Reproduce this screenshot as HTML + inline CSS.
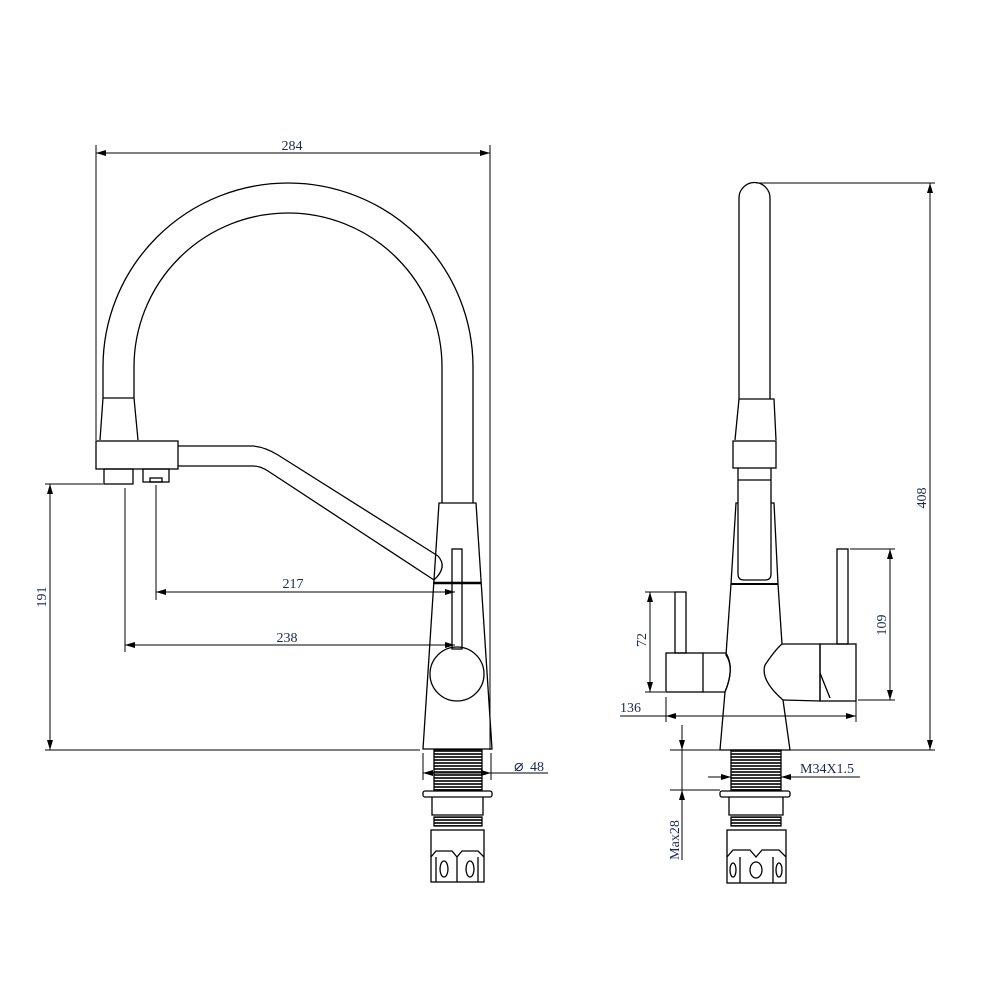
<!DOCTYPE html>
<html><head><meta charset="utf-8"><style>
html,body{margin:0;padding:0;background:#fff}
svg{display:block}
text{font-family:"Liberation Serif",serif;font-size:14px;fill:#1a2a50}
</style></head><body>
<svg width="1000" height="1000" viewBox="0 0 1000 1000" xmlns="http://www.w3.org/2000/svg">
<defs>
<marker id="a" viewBox="0 0 10 6" refX="10" refY="3" markerWidth="10" markerHeight="6" orient="auto-start-reverse" markerUnits="userSpaceOnUse"><path d="M0,0 L10,3 L0,6 z" fill="#000"/></marker>
<pattern id="th" width="4" height="3" patternUnits="userSpaceOnUse"><rect width="4" height="3" fill="#fff"/><rect width="4" height="2" fill="#333"/></pattern>
</defs>
<g fill="none" stroke="#000" stroke-width="1.3">
<!-- LEFT VIEW -->
<path d="M103,398 L103,367 A185,184 0 0 1 473,367 L473,503"/>
<path d="M134,398 L134,367 A154,154 0 0 1 442,367 L442,503"/>
<path d="M103,398 L134,398 L138,440 M103,398 L100,440"/>
<rect x="96" y="441" width="82" height="28"/>
<rect x="104" y="469" width="29" height="15"/>
<rect x="143" y="469" width="26" height="13"/>
<rect x="150" y="478" width="12" height="4"/>
<path d="M178,446 L253,446 Q265,447 278,455 L438,556"/>
<path d="M178,466 L253,466 Q260,466 268,471 L434,580"/>
<path d="M438,556 Q448,567 434,580"/>
<path d="M439,503 L476,503 L492,749 L423,749 Z"/>
<circle cx="457" cy="674" r="27"/>
<rect x="452" y="549" width="10" height="100"/>
<path d="M433,583 L481,583" stroke-width="2.5"/>
<rect x="434" y="750" width="48" height="40" fill="url(#th)"/>
<rect x="423" y="791" width="69" height="6" rx="2"/>
<path d="M432,797 L432,815 L483,815 L483,797"/>
<rect x="434" y="817" width="48" height="9" fill="url(#th)"/>
<rect x="431" y="830" width="53" height="52"/>
<path d="M431,857 L436,851 L452,851 L457,857 L462,851 L478,851 L484,857 M457,857 L457,882 M436,857 L436,882 M478,857 L478,882"/>
<ellipse cx="444" cy="869" rx="4" ry="8"/><ellipse cx="470" cy="869" rx="4" ry="8"/>
<!-- RIGHT VIEW -->
<path d="M739,399 L739,198 A15.5,15.5 0 0 1 770,198 L770,399"/>
<path d="M739,399 L774,399 L776,440 M739,399 L735,440"/>
<rect x="733" y="441" width="43" height="27"/>
<path d="M738,468 L738,480 L771,480 L771,468 M738,480 L738,503 M771,480 L771,503"/>
<path d="M738,503 L736,503 L731,584 M771,503 L774,503 L778,584"/>
<path d="M738,503 L738,574 Q738,580 744,580 L765,580 Q771,580 771,574 L771,503"/>
<path d="M731,584 L778,584" stroke-width="2"/>
<path d="M731,584 L726,655 Q735,668 725,692 L720,750 L790,750 L783,700 Q760,680 765,665 Q775,650 782,644 L778,584"/>
<rect x="666" y="653" width="37" height="39"/>
<path d="M703,653 L726,653 Q735,668 725,692 L703,692" />
<rect x="675" y="592" width="11" height="61"/>
<rect x="820" y="644" width="36" height="57"/>
<path d="M782,644 L820,644 L820,701 L783,700"/>
<path d="M820,673 L830,698"/>
<rect x="837" y="549" width="11" height="95"/>
<rect x="731" y="750" width="50" height="40" fill="url(#th)"/>
<rect x="720" y="791" width="70" height="6" rx="2"/>
<path d="M729,797 L729,815 L783,815 L783,797"/>
<rect x="731" y="817" width="50" height="9" fill="url(#th)"/>
<rect x="727" y="830" width="59" height="53"/>
<path d="M727,857 L733,850 L750,850 L756,857 L762,850 L779,850 L786,857 M740,857 L740,883 M773,857 L773,883"/>
<ellipse cx="733" cy="870" rx="3" ry="7"/><ellipse cx="756" cy="870" rx="6" ry="8"/><ellipse cx="779" cy="870" rx="3" ry="7"/>
</g>
<!-- DIMENSIONS -->
<g fill="none" stroke="#000" stroke-width="1">
<path d="M96,145 L96,440 M490,145 L490,750"/>
<path d="M96,153 L490,153" marker-start="url(#a)" marker-end="url(#a)"/>
<path d="M45,750 L420,750 M45,484 L103,484"/>
<path d="M50,484 L50,750" marker-start="url(#a)" marker-end="url(#a)"/>
<path d="M156,485 L156,600 M125,488 L125,652"/>
<path d="M156,592 L455,592" marker-start="url(#a)" marker-end="url(#a)"/>
<path d="M125,645 L455,645" marker-start="url(#a)" marker-end="url(#a)"/>
<path d="M423,753 L423,780 M491,753 L491,780"/>
<path d="M423,773 L491,773" marker-start="url(#a)" marker-end="url(#a)"/>
<path d="M491,773 L548,773"/>
<path d="M756,183 L935,183 M790,750 L935,750"/>
<path d="M930,183 L930,750" marker-start="url(#a)" marker-end="url(#a)"/>
<path d="M850,549 L895,549 M858,700 L895,700"/>
<path d="M890,549 L890,700" marker-start="url(#a)" marker-end="url(#a)"/>
<path d="M645,592 L675,592 M645,692 L665,692"/>
<path d="M650,592 L650,692" marker-start="url(#a)" marker-end="url(#a)"/>
<path d="M666,697 L666,722 M856,700 L856,722 M620,716 L666,716"/>
<path d="M666,716 L856,716" marker-start="url(#a)" marker-end="url(#a)"/>
<path d="M670,750 L720,750 M670,790 L720,790"/>
<path d="M682,725 L682,750" marker-end="url(#a)"/>
<path d="M682,815 L682,790" marker-end="url(#a)"/>
<path d="M682,750 L682,860"/>
<path d="M708,777 L731,777" marker-end="url(#a)"/>
<path d="M860,777 L781,777" marker-end="url(#a)"/>
<path d="M799,777 L860,777"/>
</g>
<text x="292" y="150" text-anchor="middle">284</text>
<text x="293" y="588" text-anchor="middle">217</text>
<text x="287" y="642" text-anchor="middle">238</text>
<text transform="translate(46,597) rotate(-90)" text-anchor="middle">191</text>
<text x="514" y="771" style="font-size:16px">⌀</text><text x="530" y="771">48</text>
<text transform="translate(926,498) rotate(-90)" text-anchor="middle">408</text>
<text transform="translate(886,625) rotate(-90)" text-anchor="middle">109</text>
<text transform="translate(646,640) rotate(-90)" text-anchor="middle">72</text>
<text x="620" y="712">136</text>
<text x="800" y="773">M34X1.5</text>
<text transform="translate(679,840) rotate(-90)" text-anchor="middle">Max28</text>
</svg>
</body></html>
